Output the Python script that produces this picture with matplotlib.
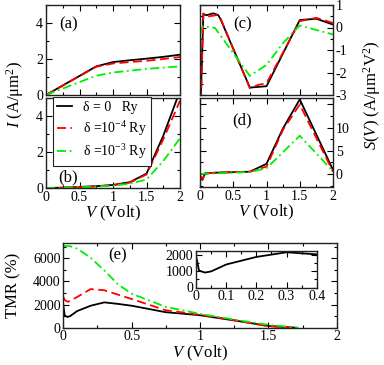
import matplotlib
matplotlib.use("Agg")
import matplotlib.pyplot as plt
from matplotlib.ticker import MultipleLocator, FuncFormatter

plt.rcParams['font.family'] = ['Liberation Serif', 'DejaVu Serif']
plt.rcParams['mathtext.fontset'] = 'custom'
plt.rcParams['mathtext.rm'] = 'Liberation Serif'
plt.rcParams['mathtext.it'] = 'Liberation Serif:italic'
plt.rcParams['mathtext.bf'] = 'Liberation Serif:bold'

# ---------------- data ----------------
labels = ['δ = 0   Ry', 'δ =10$^{-4}$ Ry', 'δ =10$^{-3}$ Ry']

V_a = [0, 0.25, 0.5, 0.75, 1.0, 1.25, 1.5, 1.75, 2.0]
Ia_0 = [0, 0.53, 1.06, 1.59, 1.83, 1.93, 2.02, 2.12, 2.24]
Ia_4 = [0, 0.52, 1.05, 1.57, 1.75, 1.83, 1.90, 2.00, 2.11]
Ia_3 = [0, 0.36, 0.72, 1.07, 1.25, 1.35, 1.45, 1.52, 1.59]

V_b = [0, 0.25, 0.5, 0.75, 1.0, 1.25, 1.5, 1.75, 2.0]
Ib_0 = [0, 0.02, 0.06, 0.10, 0.17, 0.32, 0.80, 2.90, 5.40]
Ib_4 = [0, 0.02, 0.05, 0.09, 0.15, 0.30, 0.75, 2.70, 4.85]
Ib_3 = [0, 0.01, 0.04, 0.08, 0.13, 0.24, 0.47, 1.50, 2.76]

V_c0 = [0.01, 0.05, 0.1, 0.2, 0.275, 0.31, 0.75, 1.0, 1.5, 1.75, 2.0]
Sc_0 = [-3.3, 0.58, 0.55, 0.63, 0.55, 0.36, -2.67, -2.61, 0.33, 0.39, 0.13]
V_c4 = [0.015, 0.05, 0.1, 0.25, 0.31, 0.75, 0.875, 1.0, 1.5, 1.75, 2.0]
Sc_4 = [-3.3, 0.63, 0.48, 0.55, 0.40, -2.70, -2.55, -2.48, 0.28, 0.43, 0.20]
V_c3 = [0, 0.035, 0.125, 0.225, 0.75, 1.0, 1.25, 1.5, 2.0]
Sc_3 = [-0.31, 0.03, 0.03, -0.02, -2.15, -1.66, -0.69, 0.09, -0.31]

V_d = [0, 0.035, 0.075, 0.25, 0.75, 1.0, 1.25, 1.5, 2.0]
Sd_0 = [-0.4, -1.3, 0.15, 0.3, 0.5, 2.2, 9.9, 16.1, 0.9]
Sd_4 = [-0.2, -1.15, 0.1, 0.3, 0.5, 1.6, 9.6, 15.0, 0.5]
V_d3 = [0, 0.25, 0.75, 1.0, 1.5, 2.0]
Sd_3 = [0, 0.15, 0.43, 1.23, 8.26, 0.6]

V_e0 = [0, 0.01, 0.03, 0.05, 0.1, 0.2, 0.3, 0.4, 0.5, 0.75, 1.0, 1.25, 1.5, 1.7]
T_0 = [1980, 1050, 930, 1000, 1430, 1900, 2190, 2060, 1900, 1340, 1080, 630, 150, 0]
V_e4 = [0, 0.01, 0.03, 0.05, 0.1, 0.2, 0.3, 0.5, 0.75, 1.0, 1.25, 1.5, 1.7]
T_4 = [2650, 2400, 2250, 2300, 2650, 3340, 3240, 2480, 1510, 1120, 650, 130, 0]
V_e3 = [0, 0.05, 0.1, 0.15, 0.2, 0.3, 0.4, 0.5, 0.75, 1.0, 1.25, 1.5, 1.72]
T_3 = [7080, 7050, 6850, 6450, 6050, 4950, 3750, 2940, 1800, 1200, 700, 250, 0]

# ---------------- styles ----------------
st0 = dict(color='black', lw=1.3, ls='-')
st4 = dict(color='#ff0000', lw=1.3, ls=(0, (5, 2.5)))
st3 = dict(color='#00ee00', lw=1.3, ls=(0, (5, 2, 1, 2)))

W, H = 384, 365
fig = plt.figure(figsize=(W / 100, H / 100), dpi=100)

def box(l, r, t, b):
    return [l / W, (H - b) / H, (r - l) / W, (b - t) / H]

def style(ax, xmaj, xmin, ymaj, ymin, fs=10):
    ax.xaxis.set_major_locator(MultipleLocator(xmaj))
    ax.xaxis.set_minor_locator(MultipleLocator(xmin))
    ax.yaxis.set_major_locator(MultipleLocator(ymaj))
    ax.yaxis.set_minor_locator(MultipleLocator(ymin))
    ax.tick_params(which='both', direction='in', top=True, right=True, left=True, bottom=True,
                   labelsize=fs, pad=2)
    ax.tick_params(which='major', length=4.3, width=0.8)
    ax.tick_params(which='minor', length=2.2, width=0.8)
    for s in ax.spines.values():
        s.set_linewidth(1.0)
        s.set_color('#222222')

def fmt(v, pos):
    return '%g' % v

# (a)
ax_a = fig.add_axes(box(46, 180, 5, 95))
ax_a.plot(V_a, Ia_0, **st0)
ax_a.plot(V_a, Ia_4, **st4)
ax_a.plot(V_a, Ia_3, **st3)
ax_a.set_xlim(0, 2); ax_a.set_ylim(0, 5)
style(ax_a, 0.5, 0.25, 2, 1)
ax_a.set_xticklabels([])
ax_a.text(0.165, 0.78, '(a)', transform=ax_a.transAxes, ha='center', va='center', fontsize=12)

# (b)
ax_b = fig.add_axes(box(46, 180, 98, 188))
h0, = ax_b.plot(V_b, Ib_0, **st0)
h4, = ax_b.plot(V_b, Ib_4, **st4)
h3, = ax_b.plot(V_b, Ib_3, **st3)
ax_b.set_xlim(0, 2); ax_b.set_ylim(0, 5)
style(ax_b, 0.5, 0.25, 2, 1)
ax_b.xaxis.set_major_formatter(FuncFormatter(fmt))
ax_b.text(0.165, 0.12, '(b)', transform=ax_b.transAxes, ha='center', va='center', fontsize=12)
ax_b.set_xlabel('$V$ (Volt)', fontsize=12, labelpad=0)
leg = ax_b.legend([h0, h4, h3], labels, loc='upper left', bbox_to_anchor=(0.05, 1.015),
                  fontsize=10, handlelength=1.1, handletextpad=0.8, borderpad=0.3,
                  labelspacing=0.35, fancybox=False, framealpha=1, edgecolor='#222222',
                  borderaxespad=0)
leg.get_frame().set_linewidth(0.8)

fig.text(15 / W, 1 - 95 / H, '$I$ (A/μm$^2$)', rotation=90, ha='center', va='center', fontsize=12)

# (c)
ax_c = fig.add_axes(box(200, 333, 5, 95))
ax_c.plot(V_c0, Sc_0, **st0)
ax_c.plot(V_c4, Sc_4, **st4)
ax_c.plot(V_c3, Sc_3, **st3)
ax_c.set_xlim(0, 2); ax_c.set_ylim(-3, 1)
style(ax_c, 0.5, 0.25, 1, 0.5)
ax_c.set_xticklabels([])
ax_c.tick_params(labelleft=False, labelright=True)
ax_c.yaxis.set_major_formatter(FuncFormatter(fmt))
ax_c.text(0.32, 0.78, '(c)', transform=ax_c.transAxes, ha='center', va='center', fontsize=12)

# (d)
ax_d = fig.add_axes(box(200, 333, 98, 187))
ax_d.plot(V_d, Sd_0, **st0)
ax_d.plot(V_d, Sd_4, **st4)
ax_d.plot(V_d3, Sd_3, **st3)
ax_d.set_xlim(0, 2); ax_d.set_ylim(-2.8, 16.4)
style(ax_d, 0.5, 0.25, 5, 2.5)
ax_d.xaxis.set_major_formatter(FuncFormatter(fmt))
ax_d.yaxis.set_major_formatter(FuncFormatter(lambda v, p: '%g' % v if v < 12 else ''))
ax_d.tick_params(labelleft=False, labelright=True)
ax_d.text(0.32, 0.75, '(d)', transform=ax_d.transAxes, ha='center', va='center', fontsize=12)
ax_d.set_xlabel('$V$ (Volt)', fontsize=12, labelpad=0)

fig.text(372 / W, 1 - 95 / H, '$S(V)$ (A/μm$^2$V$^2$)', rotation=90, ha='center', va='center',
         fontsize=12)

# (e)
ax_e = fig.add_axes(box(63.3, 336.7, 243.3, 327.7))
ax_e.plot(V_e0, T_0, **st0)
ax_e.plot(V_e4, T_4, **st4)
ax_e.plot(V_e3, T_3, **st3)
ax_e.set_xlim(0, 2); ax_e.set_ylim(0, 7300)
style(ax_e, 0.5, 0.25, 2000, 1000)
ax_e.xaxis.set_major_formatter(FuncFormatter(fmt))
ax_e.set_xlabel('$V$ (Volt)', fontsize=12, labelpad=0)
fig.text(13 / W, 1 - 285 / H, 'TMR (%)', rotation=90, ha='center', va='center', fontsize=12)
ax_e.text(0.197, 0.86, '(e)', transform=ax_e.transAxes, ha='center', va='center', fontsize=12)

# inset
ax_i = fig.add_axes(box(196, 316.7, 250.5, 287.5))
ax_i.plot(V_e0, T_0, **st0)
ax_i.set_xlim(0, 0.4); ax_i.set_ylim(0, 2300)
style(ax_i, 0.1, 0.05, 1000, 500)
ax_i.xaxis.set_major_formatter(FuncFormatter(fmt))

fig.savefig('out.png', dpi=100)
